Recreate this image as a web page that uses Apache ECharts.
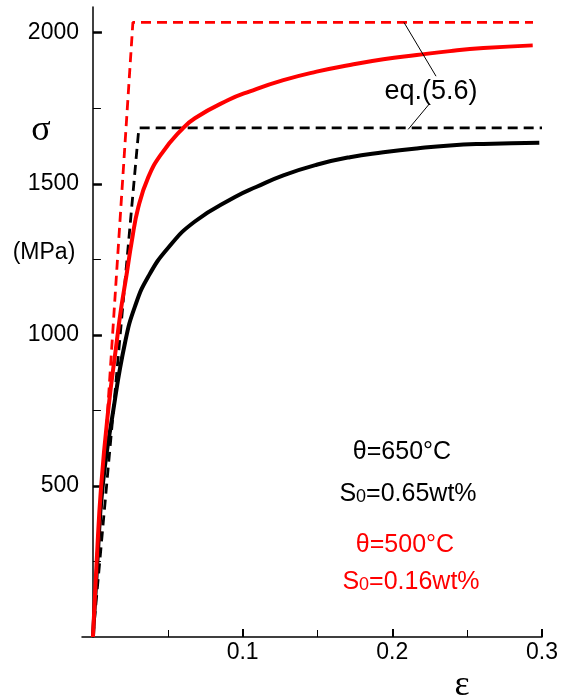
<!DOCTYPE html>
<html>
<head>
<meta charset="utf-8">
<script src="https://cdn.jsdelivr.net/npm/echarts@6/dist/echarts.min.js"></script>
<style>
html, body { margin: 0; padding: 0; background: #fff; }
#chart { width: 561px; height: 697px; }
</style>
</head>
<body>
<div id="chart"></div>
<script>
// axis ticks
const strainTicks = [0.1, 0.2, 0.3];
const strainMinorTicks = [0.05, 0.15, 0.25];
const stressTicks = [500, 1000, 1500, 2000];
const stressMinorTicks = [250, 750, 1250, 1750];

// measured curves [strain, stress MPa]
const curve650 = [[0, 0], [0.003, 250], [0.0065, 500], [0.0136, 750], [0.0214, 973], [0.0281, 1094],
  [0.037, 1193], [0.0503, 1288], [0.0681, 1375], [0.0949, 1456], [0.1094, 1490], [0.1272, 1528],
  [0.1494, 1563], [0.1717, 1588], [0.194, 1604], [0.2163, 1617], [0.2385, 1627], [0.2608, 1632],
  [0.2982, 1636]];
const curve500 = [[0, 0], [0.0025, 250], [0.0055, 500], [0.0102, 750], [0.0158, 973], [0.0187, 1083],
  [0.0225, 1200], [0.0258, 1305], [0.0303, 1422], [0.037, 1522], [0.0459, 1600], [0.0588, 1677],
  [0.0681, 1717], [0.0904, 1777], [0.1049, 1806], [0.1272, 1843], [0.1494, 1871], [0.1717, 1893],
  [0.194, 1912], [0.2163, 1926], [0.2385, 1939], [0.2608, 1949], [0.2938, 1958]];

// eq.(5.6) bilinear model
const model650 = [[0, 0], [0.0307, 1685], [0.300, 1685]];
const model500 = [[0, 0], [0.0267, 2034], [0.294, 2034]];

// leader lines of the eq.(5.6) label
const leader500 = [[0.2078, 2034], [0.2292, 1856]];
const leader650 = [[0.2247, 1764], [0.2106, 1680]];

const sans = '"Liberation Sans", Arial, sans-serif';
const serif = '"Liberation Serif", "Times New Roman", serif';

const gridBox = { left: 82, right: 19, top: 7, bottom: 60 };

const chart = echarts.init(document.getElementById('chart'));

const lineSeries = (data, color, width, type) => ({
  type: 'line',
  data: data,
  xAxisIndex: 0,
  yAxisIndex: 0,
  showSymbol: false,
  symbol: 'none',
  lineStyle: { color: color, width: width, type: type },
  silent: true
});

chart.setOption({
  animation: false,
  grid: [
    Object.assign({}, gridBox),
    Object.assign({}, gridBox)
  ],
  xAxis: [
    {
      type: 'value', gridIndex: 0, min: -0.0073, max: 0.3,
      axisLine: { onZero: false, lineStyle: { color: '#000', width: 1.5 } },
      axisTick: { customValues: strainTicks, inside: true, length: 8, lineStyle: { color: '#000', width: 2 } },
      axisLabel: { customValues: strainTicks, color: '#000', fontSize: 23, fontFamily: sans, margin: 4, formatter: v => String(v) },
      splitLine: { show: false }
    },
    {
      type: 'value', gridIndex: 1, min: -0.0073, max: 0.3,
      axisLine: { onZero: false, lineStyle: { opacity: 0 } },
      axisTick: { customValues: strainMinorTicks, inside: true, length: 7, lineStyle: { color: '#000', width: 1 } },
      axisLabel: { show: false },
      splitLine: { show: false }
    }
  ],
  yAxis: [
    {
      type: 'value', gridIndex: 0, min: 0, max: 2085,
      axisLine: { onZero: true, lineStyle: { color: '#000', width: 1.5 } },
      axisTick: { customValues: stressTicks, inside: true, length: 9, lineStyle: { color: '#000', width: 2.5 } },
      axisLabel: { customValues: stressTicks, color: '#000', fontSize: 23, fontFamily: sans, margin: 3, formatter: v => String(v) },
      splitLine: { show: false }
    },
    {
      type: 'value', gridIndex: 1, min: 0, max: 2085,
      axisLine: { onZero: true, lineStyle: { opacity: 0 } },
      axisTick: { customValues: stressMinorTicks, inside: true, length: 8, lineStyle: { color: '#000', width: 1 } },
      axisLabel: { show: false },
      splitLine: { show: false }
    }
  ],
  series: [
    lineSeries(model650, '#000', 2.8, [10, 6]),
    lineSeries(model500, '#ff0000', 2.8, [10, 6]),
    Object.assign(lineSeries(curve650, '#000', 4, 'solid'), { smooth: 0.5 }),
    Object.assign(lineSeries(curve500, '#ff0000', 4, 'solid'), { smooth: 0.5 }),
    lineSeries(leader500, '#000', 1, 'solid'),
    lineSeries(leader650, '#000', 1, 'solid')
  ],
  graphic: [
    { type: 'text', x: 41, y: 131, style: { text: 'σ', font: '36px ' + serif, fill: '#000', textAlign: 'center', textVerticalAlign: 'middle' } },
    { type: 'text', x: 44, y: 253, style: { text: '(MPa)', font: '23px ' + sans, fill: '#000', textAlign: 'center', textVerticalAlign: 'middle' } },
    { type: 'text', x: 462, y: 686, style: { text: 'ε', font: '36px ' + serif, fill: '#000', textAlign: 'center', textVerticalAlign: 'middle' } },
    { type: 'text', x: 431, y: 92, style: { text: 'eq.(5.6)', font: '27px ' + sans, fill: '#000', textAlign: 'center', textVerticalAlign: 'middle' } },
    { type: 'text', x: 402, y: 452, style: { text: 'θ=650°C', font: '25px ' + sans, fill: '#000', textAlign: 'center', textVerticalAlign: 'middle' } },
    { type: 'text', x: 408, y: 494, style: {
      text: '{a|S}{b|0}{a|=0.65wt%}', textAlign: 'center', textVerticalAlign: 'middle',
      rich: { a: { font: '25px ' + sans, fill: '#000' }, b: { font: '18px ' + sans, fill: '#000', verticalAlign: 'bottom' } }
    } },
    { type: 'text', x: 405, y: 545, style: { text: 'θ=500°C', font: '25px ' + sans, fill: '#ff0000', textAlign: 'center', textVerticalAlign: 'middle' } },
    { type: 'text', x: 411, y: 582, style: {
      text: '{a|S}{b|0}{a|=0.16wt%}', textAlign: 'center', textVerticalAlign: 'middle',
      rich: { a: { font: '25px ' + sans, fill: '#ff0000' }, b: { font: '18px ' + sans, fill: '#ff0000', verticalAlign: 'bottom' } }
    } }
  ]
});
</script>
</body>
</html>
